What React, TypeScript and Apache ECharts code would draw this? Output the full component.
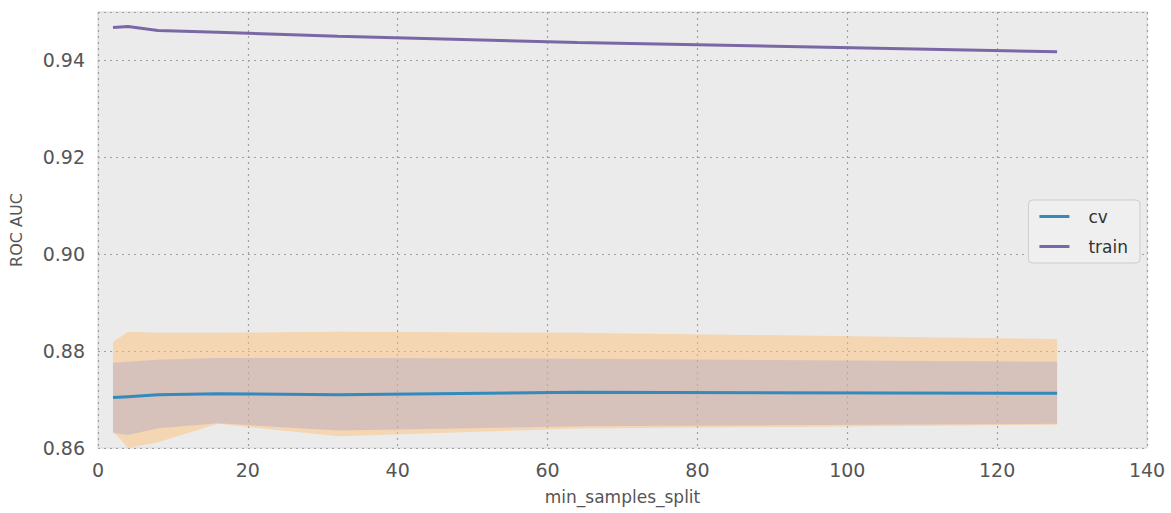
import React, { useEffect, useRef } from "react";
import * as echarts from "echarts";

const xs = [2, 4, 8, 16, 32, 64, 128];
const cvMean = [0.8704, 0.8706, 0.871, 0.8712, 0.871, 0.8715, 0.8713];
const trainMean = [0.9468, 0.947, 0.9462, 0.9458, 0.945, 0.9437, 0.9418];
const outerUpper = [0.8819, 0.884, 0.8838, 0.8838, 0.884, 0.8838, 0.8825];
const outerLower = [0.8635, 0.86, 0.8612, 0.865, 0.8624, 0.864, 0.8648];
const innerUpper = [0.8776, 0.8778, 0.8782, 0.8786, 0.8786, 0.8784, 0.8778];
const innerLower = [0.8631, 0.8627, 0.8641, 0.8651, 0.8636, 0.8645, 0.865];
const xTicks = { min: 0, max: 140, interval: 20 };
const yTicks = { min: 0.86, max: 0.95, interval: 0.02 };

const FONT = "DejaVu Sans";

function pairs(ys: number[]) {
  return xs.map((x, i) => [x, ys[i]]);
}

function bandSeries(name: string, upper: number[], lower: number[], fill: string) {
  return {
    type: "custom",
    name,
    silent: true,
    data: [0],
    renderItem: (_params: any, api: any) => {
      const pts: number[][] = [];
      for (let i = 0; i < xs.length; i++) pts.push(api.coord([xs[i], upper[i]]));
      for (let i = xs.length - 1; i >= 0; i--) pts.push(api.coord([xs[i], lower[i]]));
      return {
        type: "polygon",
        shape: { points: pts },
        style: { fill, stroke: "none" },
      };
    },
  };
}

export default function App() {
  const ref = useRef<HTMLDivElement>(null);
  useEffect(() => {
    document.body.style.margin = "0";
    const chart = echarts.init(ref.current!, null, { renderer: "svg" });
    const grid = { show: true, lineStyle: { type: [2, 4], color: "#a0a0a0", width: 1.2 } };
    chart.setOption({
      animation: false,
      backgroundColor: "#ffffff",
      grid: {
        left: 97,
        right: 24,
        top: 12,
        bottom: 65,
        show: true,
        backgroundColor: "#ebebeb",
        borderColor: "#d6d6d6",
        borderWidth: 1,
      },
      legend: {
        data: [
          { name: "cv", icon: "rect" },
          { name: "train", icon: "rect" },
        ],
        orient: "vertical",
        right: 31,
        top: 200,
        itemWidth: 30,
        itemHeight: 3,
        itemGap: 13,
        padding: [8, 12, 8, 11],
        backgroundColor: "#efefef",
        borderColor: "#cdcdcd",
        borderWidth: 1,
        borderRadius: 4,
        textStyle: {
          fontFamily: FONT,
          fontSize: 17,
          color: "#333",
          padding: [0, 0, 0, 14],
        },
      },
      xAxis: {
        type: "value",
        min: xTicks.min,
        max: xTicks.max,
        interval: xTicks.interval,
        name: "min_samples_split",
        nameLocation: "middle",
        nameGap: 40,
        nameTextStyle: { fontFamily: FONT, fontSize: 17, color: "#555" },
        axisLine: { show: false },
        axisTick: { show: false },
        axisLabel: { fontFamily: FONT, fontSize: 19, color: "#555", margin: 12 },
        splitLine: grid,
      },
      yAxis: {
        type: "value",
        min: yTicks.min,
        max: yTicks.max,
        interval: yTicks.interval,
        name: "ROC AUC",
        nameLocation: "middle",
        nameGap: 74,
        nameRotate: 90,
        nameTextStyle: { fontFamily: FONT, fontSize: 16, color: "#555" },
        axisLine: { show: false },
        axisTick: { show: false },
        axisLabel: {
          fontFamily: FONT,
          fontSize: 19,
          color: "#555",
          margin: 13,
          formatter: (v: number) => (v > 0.945 ? "" : v.toFixed(2)),
        },
        splitLine: grid,
      },
      series: [
        bandSeries("outerBand", outerUpper, outerLower, "rgba(255,192,115,0.47)"),
        bandSeries("innerBand", innerUpper, innerLower, "rgba(171,163,199,0.4)"),
        {
          type: "line",
          name: "cv",
          showSymbol: false,
          symbol: "none",
          color: "#348abd",
          lineStyle: { width: 3, color: "#348abd" },
          data: pairs(cvMean),
        },
        {
          type: "line",
          name: "train",
          showSymbol: false,
          symbol: "none",
          color: "#7a68a6",
          lineStyle: { width: 3, color: "#7a68a6" },
          data: pairs(trainMean),
        },
      ],
    });
    return () => chart.dispose();
  }, []);
  return <div ref={ref} style={{ width: 1171, height: 513 }} />;
}
